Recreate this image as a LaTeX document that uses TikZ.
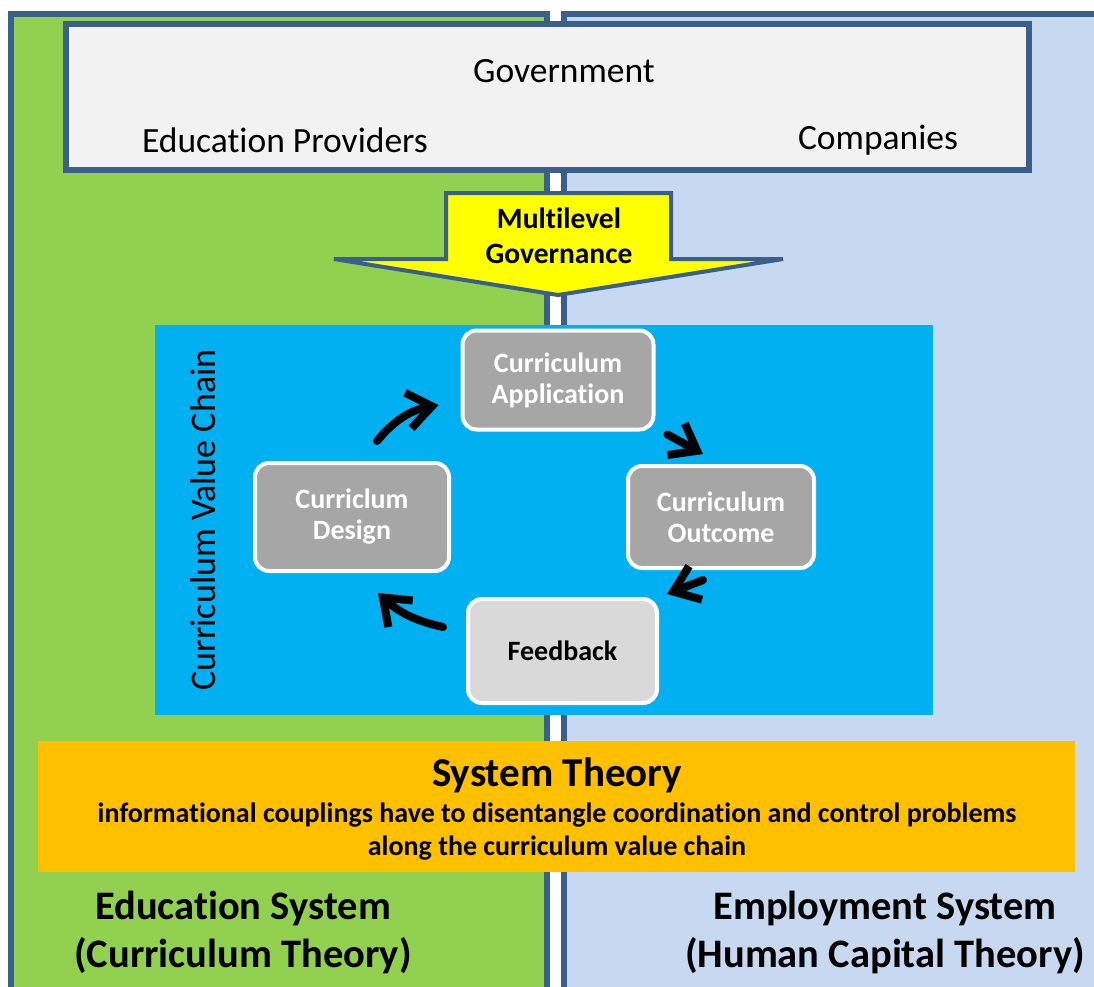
\documentclass[tikz,border=0pt]{standalone}
\usepackage{fontspec}
\setmainfont{Carlito}[Ligatures=NoCommon]
\usetikzlibrary{arrows.meta,calc}
\definecolor{greenp}{HTML}{92D050}
\definecolor{bluep}{HTML}{C6D9F1}
\definecolor{bord}{HTML}{3A5F8B}
\definecolor{govfill}{HTML}{F2F2F2}
\definecolor{yel}{HTML}{FFFF00}
\definecolor{cyanbox}{HTML}{00B0F0}
\definecolor{graynode}{HTML}{A6A6A6}
\definecolor{fbnode}{HTML}{D9D9D9}
\definecolor{orangebox}{HTML}{FFC000}
\tikzset{
  panel/.style={draw=bord, line width=6pt},
  stepnode/.style={draw=white, line width=4pt, fill=graynode, rounded corners=14pt,
    text=white, font=\fontsize{28}{31}\selectfont\bfseries, align=center, inner sep=0pt},
  cyc/.style={line width=8pt, line cap=round, -{Straight Barb[length=24pt,width=36pt,line width=8pt]}},
  lbl/.style={inner sep=0pt, align=center},
}
\begin{document}
\begin{tikzpicture}[x=1pt,y=-1pt]
\useasboundingbox (0,0) rectangle (1094,986);
\clip (0,0) rectangle (1094,986);
% panels
\path[panel, fill=greenp] (11,13.5) rectangle (547,1010);
\path[panel, fill=bluep] (564,13.5) rectangle (1120,1010);
% government box
\node[draw=bord, line width=6pt, fill=govfill, minimum width=963pt, minimum height=146pt, inner sep=0pt] (gov) at (547.5,97) {};
\node[lbl, font=\fontsize{35.5}{40}\selectfont] (govt) at (564,71) {Government};
\node[lbl, font=\fontsize{35.5}{40}\selectfont] (edu) at (285,140) {Education Providers};
\node[lbl, font=\fontsize{35.5}{40}\selectfont] (comp) at (878,140) {Companies};
% multilevel governance arrow
\draw[bord, line width=4pt, fill=yel, line join=miter]
  (446,193) -- (671,193) -- (671,259) -- (783,259) -- (558,295) -- (334,259) -- (446,259) -- cycle;
\node[lbl, font=\fontsize{29.5}{35}\selectfont\bfseries] (mlg) at (559,236) {Multilevel\\Governance};
% value chain box
\node[fill=cyanbox, minimum width=778pt, minimum height=390pt, inner sep=0pt] (vc) at (543.5,519.5) {};
\node[lbl, rotate=90, font=\fontsize{36}{40}\selectfont] (vcl) at (203,520) {Curriculum Value Chain};
% steps
\node[stepnode, minimum width=191pt, minimum height=99pt] (app) at (558,380) {Curriculum\\Application};
\node[stepnode, minimum width=194pt, minimum height=108pt] (design) at (352,517) {Curriclum\\Design};
\node[stepnode, minimum width=186pt, minimum height=102pt] (out) at (721,517) {Curriculum\\Outcome};
\node[stepnode, fill=fbnode, text=black, minimum width=189pt, minimum height=104pt] (fb) at (562.5,651) {Feedback};
% cycle arrows
\draw[cyc] ($(design.north)+(25,-20)$) to[bend left=20] ($(app.west)+(-22,25)$);
\draw[cyc] ($(app.south east)+(12,3)$) to ($(out.north)+(-18,-10)$);
\draw[cyc] ($(out.south)+(-18,10)$) to ($(fb.north east)+(8,-3)$);
\draw[cyc] ($(fb.west)+(-23,-24)$) to[bend left=15] ($(design.south)+(26,20)$);
% system theory
\node[fill=orangebox, minimum width=1037pt, minimum height=131pt, inner sep=0pt] (st) at (556.5,806.5) {};
\node[lbl, font=\fontsize{41}{46}\selectfont\bfseries] (stt) at (557,775) {System Theory};
\node[lbl, font=\fontsize{28}{33}\selectfont\bfseries] (sts) at (557,832) {informational couplings have to disentangle coordination and control problems\\along the curriculum value chain};
% bottom labels
\node[lbl, font=\fontsize{40.5}{48}\selectfont\bfseries] (edsys) at (243,932) {Education System\\(Curriculum Theory)};
\node[lbl, font=\fontsize{40.5}{48}\selectfont\bfseries] (emsys) at (885,932) {Employment System\\(Human Capital Theory)};
\end{tikzpicture}
\end{document}
